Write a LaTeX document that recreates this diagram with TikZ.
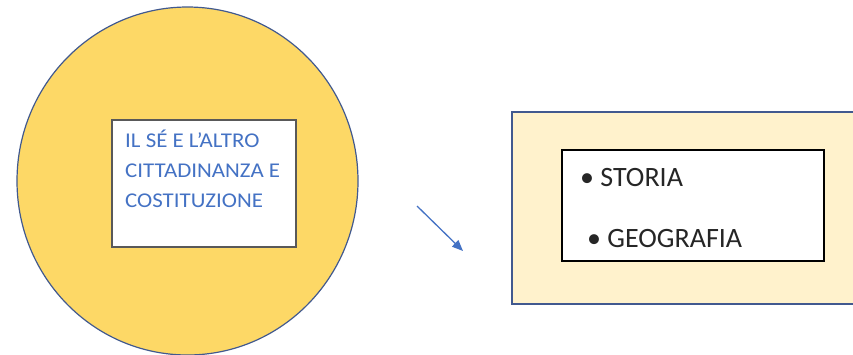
\documentclass[tikz,border=0pt]{standalone}
\usepackage{fontspec}
\setmainfont{Carlito}
\usetikzlibrary{shapes.geometric,arrows.meta}
\definecolor{circfill}{HTML}{FDD866}
\definecolor{edgeblue}{HTML}{41598F}
\definecolor{txtblue}{HTML}{4472C4}
\definecolor{cream}{HTML}{FFF2CC}
\tikzset{
  bigcircle/.style={ellipse, draw=edgeblue, line width=1.2pt, fill=circfill, minimum width=341pt, minimum height=348pt, inner sep=0pt},
  whitebox/.style={rectangle, draw=black!65, line width=1.2pt, fill=white, inner sep=0pt},
  creambox/.style={rectangle, draw=edgeblue, line width=1.2pt, fill=cream, inner sep=0pt},
  blacktxt/.style={anchor=base west, inner sep=0pt, font=\fontsize{28}{30}\selectfont, text=black!85},
  bluetxt/.style={anchor=base west, inner sep=0pt, xscale=1.09, font=\fontsize{21}{30}\selectfont, text=txtblue},
  bluearrow/.style={draw=txtblue, line width=1.3pt, -{Triangle[length=11pt,width=9pt]}}
}
\begin{document}
\begin{tikzpicture}[x=1pt,y=-1pt]
\useasboundingbox (0,0) rectangle (853,354);
\begin{scope}
\clip (0,0) rectangle (853,354);
\node[bigcircle] (circ) at (187.5,181) {};
\node[whitebox, minimum width=184pt, minimum height=127pt] (wbox) at (204,183.5) {};
\node[bluetxt] (bl1) at (125,147) {IL SÉ E L’ALTRO};
\node[bluetxt] (bl2) at (125,177) {CITTADINANZA E};
\node[bluetxt] (bl3) at (125,207) {COSTITUZIONE};
\node[creambox, minimum width=360pt, minimum height=192pt] (cbox) at (692,208) {};
\node[whitebox, draw=black, minimum width=262pt, minimum height=111pt] (ibox) at (693,205.5) {};
\node[blacktxt] (storia) at (580,186) {• STORIA};
\node[blacktxt] (geo) at (587,247) {• GEOGRAFIA};
\coordinate (astart) at (417,206);
\coordinate (aend) at (463,251);
\draw[bluearrow] (astart) -- (aend);
\end{scope}
\end{tikzpicture}
\end{document}
